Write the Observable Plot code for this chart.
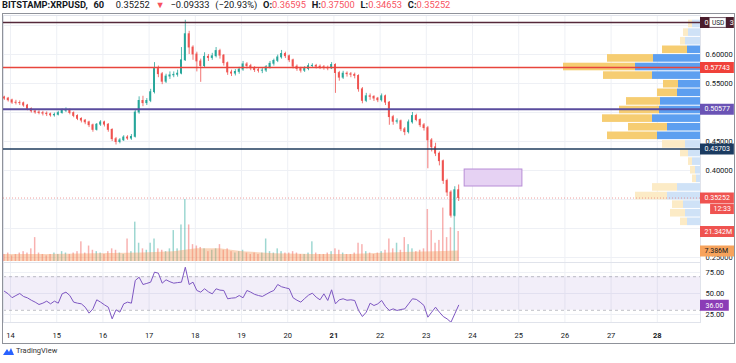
<!DOCTYPE html>
<html><head><meta charset="utf-8">
<script src="https://cdn.jsdelivr.net/npm/d3@7"></script>
<script src="https://cdn.jsdelivr.net/npm/@observablehq/plot@0.6"></script>
<style>
body{margin:0;background:#fff;font-family:Roboto,"Liberation Sans",sans-serif;}
#wrap{position:relative;width:736px;height:363px;overflow:hidden;background:#fff;}
#wrap svg{position:absolute;left:0;top:0;}
#hdr{position:absolute;left:2px;top:-1px;font-size:9.3px;color:#131722;white-space:nowrap;word-spacing:3.5px;}
#hdr .r{color:#f7525f;}
#hdr b{font-weight:bold;}
#frame{position:absolute;left:2px;top:13px;width:733px;height:331px;border:1px solid #8f929a;box-sizing:border-box;pointer-events:none;}
#foot{position:absolute;left:3px;top:346px;font-size:7.5px;color:#333;display:flex;align-items:center;gap:2px;}
</style></head>
<body><div id="wrap">
<div id="hdr"><b>BITSTAMP:XRPUSD, 60</b>&nbsp; 0.35252 <span class="r">▼</span> −0.09333 (−20.93%) <b>O:</b><span class="r">0.36595</span> <b>H:</b><span class="r">0.37500</span> <b>L:</b><span class="r">0.34653</span> <b>C:</b><span class="r">0.35252</span></div>
<div id="frame"></div>
<div id="foot"><svg width="11" height="8" viewBox="0 0 11 8" style="position:static"><path d="M0 8 L4 2 L6 5 L8 1 L11 8 Z" fill="#2962ff"/></svg><span>TradingView</span></div>
</div>
<script>
// ---------- data ----------
const dayTicks = [14,15,16,17,18,19,20,21,22,23,24,25,26,27,28];
const boldDays = [21,28];
const priceTicks = [0.25,0.30,0.35,0.40,0.45,0.50,0.55,0.60,0.65];
const priceTickLabels = [0.25,0.30,0.40,0.45,0.55,0.60];   // the others sit under price tags
const rsiTicks = [25,50,75];
const startDay = 13.8667;           // first 2-hour candle
const stepDay = 1/12;               // 2-hour candles
const firstOpen = 0.526;
const closes = [0.524,0.521,0.517,0.5165,0.516,0.512,0.506,0.502,0.500,0.499,
 0.498,0.497,0.495,0.496,0.499,0.503,0.504,0.499,0.494,0.489,
 0.486,0.483,0.478,0.470,0.479,0.483,0.479,0.470,0.454,0.449,
 0.452,0.457,0.455,0.458,0.500,0.520,0.516,0.520,0.535,0.575,
 0.566,0.553,0.562,0.564,0.565,0.567,0.590,0.635,0.612,0.600,
 0.588,0.580,0.596,0.594,0.597,0.606,0.598,0.585,0.569,0.567,
 0.570,0.574,0.583,0.580,0.576,0.573,0.572,0.5723,0.578,0.584,
 0.589,0.595,0.601,0.597,0.590,0.579,0.575,0.572,0.575,0.580,
 0.5805,0.579,0.578,0.577,0.576,0.582,0.568,0.560,0.567,0.566,
 0.565,0.563,0.540,0.520,0.528,0.527,0.524,0.521,0.528,0.517,
 0.492,0.484,0.485,0.471,0.466,0.483,0.494,0.487,0.478,0.473,
 0.452,0.440,0.429,0.416,0.382,0.362,0.322,0.366,0.35252];
const highs = [0.528,0.526,0.523,0.521,0.520,0.518,0.514,0.508,0.505,0.503,
 0.502,0.501,0.499,0.499,0.502,0.506,0.508,0.506,0.501,0.496,
 0.491,0.488,0.485,0.480,0.481,0.486,0.485,0.481,0.472,0.457,
 0.455,0.460,0.460,0.462,0.505,0.527,0.528,0.524,0.540,0.586,
 0.580,0.569,0.566,0.570,0.570,0.573,0.612,0.659,0.640,0.615,
 0.604,0.592,0.603,0.600,0.602,0.612,0.609,0.600,0.587,0.573,
 0.574,0.578,0.588,0.586,0.583,0.579,0.576,0.576,0.581,0.588,
 0.592,0.599,0.607,0.604,0.599,0.592,0.582,0.578,0.579,0.584,
 0.584,0.583,0.582,0.581,0.580,0.586,0.584,0.571,0.571,0.570,
 0.569,0.568,0.565,0.543,0.533,0.532,0.529,0.526,0.532,0.530,
 0.519,0.495,0.489,0.487,0.474,0.487,0.500,0.497,0.489,0.481,
 0.476,0.455,0.447,0.432,0.418,0.385,0.365,0.372,0.37500];
const lows = [0.521,0.518,0.514,0.513,0.512,0.509,0.503,0.499,0.497,0.496,
 0.494,0.493,0.492,0.492,0.494,0.497,0.500,0.496,0.491,0.486,
 0.482,0.479,0.474,0.466,0.468,0.476,0.475,0.466,0.450,0.444,
 0.446,0.450,0.452,0.452,0.456,0.497,0.510,0.512,0.517,0.532,
 0.560,0.548,0.550,0.557,0.560,0.561,0.565,0.588,0.600,0.590,
 0.570,0.552,0.577,0.588,0.590,0.594,0.592,0.580,0.564,0.562,
 0.563,0.566,0.571,0.575,0.572,0.569,0.568,0.567,0.569,0.575,
 0.580,0.586,0.592,0.593,0.586,0.575,0.571,0.568,0.569,0.572,
 0.576,0.575,0.574,0.573,0.572,0.574,0.533,0.554,0.557,0.561,
 0.560,0.558,0.535,0.515,0.517,0.521,0.519,0.517,0.518,0.512,
 0.478,0.478,0.480,0.467,0.460,0.463,0.480,0.484,0.474,0.468,
 0.403,0.432,0.424,0.408,0.376,0.355,0.318,0.320,0.34653];
const volumesM = [5,6,4,5,6,7,6,9,17,6,
 5,4,5,6,5,7,6,5,6,7,
 14,6,11,8,7,6,5,7,9,8,
 6,5,16,7,28,13,9,8,13,16,
 9,8,7,9,22,9,26,44,26,12,
 11,10,9,7,8,9,12,8,9,7,
 6,7,8,6,5,6,5,6,16,7,
 6,9,7,6,6,7,6,5,5,6,
 14,6,5,5,6,7,9,8,6,5,
 5,6,13,12,7,6,5,6,7,8,
 16,9,13,8,17,12,9,7,8,9,
 37,22,13,15,38,17,24,34,21.342];
const rsiValues = [52.7,49.6,45,47.6,50,46.4,44.8,42,39.7,36.9,
 38.5,40.9,37.7,40.9,38.5,49.6,51.6,47.6,39.7,38.5,
 37.7,33.7,26.6,31.7,42.5,39.7,36.5,33.7,19.8,30.6,
 27.8,37.7,39.7,38.5,65.5,69.4,60.7,62,63.5,75.4,
 74.2,62.3,66.3,64,62.3,63,63.5,81.3,60.7,63.5,
 53.6,51.6,55.6,52,49.6,55.6,54,53.6,43.7,44.5,
 44.9,47.6,44.9,53.6,51.6,49,47.6,46.5,49,51.6,
 53.6,60.7,58,56.8,55.6,44.9,42,39.7,44,48,
 50.4,45.6,42.5,49.6,41.7,54.4,37.7,42.5,43.7,42,
 42.5,41.7,29.8,22.6,27.8,38.5,35.7,37.7,41.7,34.5,
 29.8,31.7,29.8,31,31.7,37.7,43.7,43,39.7,35.7,
 21.8,27.8,33.7,27.8,22.6,19.8,15.8,25.8,36];
// volume moving average, read at candle indices
const maIndex = [0,12,24,36,44,50,56,62,70,80,90,100,106,112,118];
const maValues = [5,5,5.5,6,7,9,9,7,5.5,5,5,6,6.5,7,7.386];
// visible range volume profile (rows from top price, fixed row height)
const vpTop = 0.66, vpRow = 0.01483;
const vpUp   = [4,6,7.5,6.5,23.5,32.5,24,11,11.5,20,20.5,24,16.5,21.5,7.5,6,4,2.5,2,11.5,16.5,8.5,7.5,6.5];
const vpDown = [2,2.5,2.5,12.5,23,36,24.5,7.5,10,17,20,25,19.5,25,11.5,4,2,2.5,2,12.5,16,5.5,7.5,3.5];
const vpValueArea = [0,0,0,1,1,1,1,1,1,1,1,1,1,1,0,0,0,0,0,0,0,0,0,0];
// horizontal levels
const levelPrices = [0.65523,0.57743,0.50577,0.43703];
const levelColors = ["#55283a","#e8453c","#5a4c9e","#1f3d5e"];
const levelWidths = [1.5,1.5,2,1.5];
const levelTags   = ["#4a1d2c","#f0413a","#6a53b5","#1b3b60"];
const topTagParts = ["0", "3"];     // visible ends of the top level's tag, USD badge covers the rest
const lastPrice = 0.35252, countdown = "12:33";
const zone = {d1:23.83, d2:25.08, p1:0.3724, p2:0.4017};
const lastVolume = 21.342, volMALast = 7.386, rsiLast = 36.00;

// ---------- layout ----------
const W = 736, H = 363;
const xDomain = [13.848, 28.935];
const priceDomain = [0.241379, 0.667241];
const volDomain = [0, 175];
const rsiDomain = [15.476, 86.905];
const UP = "#26a69a", DOWN = "#ef5350";
const TAGFONT = 7;
const baseStyle = "background:transparent;position:absolute;left:0;top:0;overflow:visible;font-family:Roboto,'Liberation Sans',sans-serif;";

const candles = closes.map((c, i) => ({
  t: startDay + i * stepDay, o: i ? closes[i-1] : firstOpen, c, h: highs[i], l: lows[i],
  v: volumesM[i], r: rsiValues[i]
}));
candles.forEach(d => d.col = d.c >= d.o ? UP : DOWN);
const maData = maIndex.map((k, j) => ({t: startDay + k * stepDay, v: maValues[j]}));
const vp = vpUp.map((u, k) => ({hi: vpTop - k*vpRow, lo: vpTop - (k+1)*vpRow, up: u, dn: vpDown[k], va: vpValueArea[k]}));
const levels = levelPrices.map((p, k) => ({p, stroke: levelColors[k], w: levelWidths[k], tag: levelTags[k]}));

const wrap = document.getElementById("wrap");
const frameEl = document.getElementById("frame");
function add(svg){ wrap.insertBefore(svg, frameEl); }

// price pane background: grid + frame
add(Plot.plot({
  width: W, height: H, marginTop: 15, marginBottom: 101, marginLeft: 3, marginRight: 36,
  style: baseStyle, x: {domain: xDomain, axis: null}, y: {domain: priceDomain, axis: null},
  marks: [
    Plot.ruleY(priceTicks, {stroke: "#eef0f5"}),
    Plot.ruleX(dayTicks, {stroke: "#eef0f5"}),
    Plot.frame({stroke: "#e0e3eb"})
  ]
}));

// volume overlay
add(Plot.plot({
  width: W, height: H, marginTop: 15, marginBottom: 102, marginLeft: 3, marginRight: 36,
  style: baseStyle, x: {domain: xDomain, axis: null}, y: {domain: volDomain, axis: null},
  color: {type: "identity"},
  marks: [
    Plot.rect(candles, {x1: d => d.t - 0.016, x2: d => d.t + 0.016, y1: d => 0, y2: "v", fill: "col", fillOpacity: 0.45}),
    Plot.areaY(maData, {x: "t", y: "v", fill: "#f39a5e", fillOpacity: 0.42})
  ]
}));

// volume profile
add(Plot.plot({
  width: W, height: H, marginTop: 15, marginBottom: 101,
  style: baseStyle, x: {domain: [0, 100], range: [700, 500], axis: null}, y: {domain: priceDomain, axis: null},
  color: {type: "identity"},
  marks: [
    Plot.rect(vp, {x1: d => 0, x2: "up", y1: "lo", y2: "hi", fill: d => d.va ? "#5d9ff0" : "#cfe2f7", insetTop: 0.5, insetBottom: 0.5}),
    Plot.rect(vp, {x1: "up", x2: d => d.up + d.dn, y1: "lo", y2: "hi", fill: d => d.va ? "#f6cd72" : "#fcebc6", insetTop: 0.5, insetBottom: 0.5})
  ]
}));

// price pane: candles, levels, zone
add(Plot.plot({
  width: W, height: H, marginTop: 15, marginBottom: 101, marginLeft: 3, marginRight: 36,
  style: baseStyle, x: {domain: xDomain, axis: null}, y: {domain: priceDomain, axis: null},
  color: {type: "identity"},
  marks: [
    Plot.ruleY([lastPrice], {stroke: "#e57373", strokeOpacity: 0.7, strokeDasharray: "1,2"}),
    Plot.rect([zone], {x1: "d1", x2: "d2", y1: "p1", y2: "p2", fill: "#e6d2f3", stroke: "#b88dd6", strokeWidth: 1}),
    Plot.ruleX(candles, {x: "t", y1: "l", y2: "h", stroke: "col", strokeWidth: 0.8}),
    Plot.rect(candles, {x1: d => d.t - 0.021, x2: d => d.t + 0.021, y1: "o", y2: "c", fill: "col", insetTop: -0.4, insetBottom: -0.4}),
    ...levels.map(L => Plot.ruleY([L.p], {stroke: L.stroke, strokeWidth: L.w})),
    Plot.axisY(priceTickLabels, {anchor: "right", tickSize: 0, tickPadding: 5, tickFormat: d3.format(".5f"), fontSize: 7.5, fill: "#131722", label: null})
  ]
}));

// price axis column: tags
const priceTags = levels.slice(1).map(L => ({v: L.p, bg: L.tag, fg: "#fff", label: d3.format(".5f")(L.p)}))
  .concat([{v: lastPrice, bg: DOWN, fg: "#fff", label: d3.format(".5f")(lastPrice)}]);
add(Plot.plot({
  width: W, height: H, marginTop: 15, marginBottom: 101, marginLeft: 700, marginRight: 0,
  style: baseStyle, x: {domain: [0, 1], axis: null}, y: {domain: priceDomain, axis: null},
  color: {type: "identity"},
  marks: [
    Plot.ruleY(priceTags, {y: "v", x1: d => 0, x2: d => 0.94, stroke: "bg", strokeWidth: 11}),
    Plot.text(priceTags, {y: "v", x: d => 0.11, text: "label", fill: "fg", textAnchor: "start", fontSize: TAGFONT}),
    Plot.ruleY([lastPrice], {x1: d => 0.28, x2: d => 0.94, stroke: DOWN, strokeWidth: 10, dy: 11}),
    Plot.text([countdown], {y: d => lastPrice, x: d => 0.36, text: d => d, fill: "#fff", textAnchor: "start", fontSize: TAGFONT, dy: 11}),
    // top level tag with USD badge over it
    Plot.ruleY([levelPrices[0]], {x1: d => 0, x2: d => 0.94, stroke: levelTags[0], strokeWidth: 11}),
    Plot.text([topTagParts[0]], {y: d => levelPrices[0], x: d => 0.11, text: d => d, fill: "#fff", textAnchor: "start", fontSize: TAGFONT}),
    Plot.text([topTagParts[1]], {y: d => levelPrices[0], x: d => 0.92, text: d => d, fill: "#fff", textAnchor: "end", fontSize: TAGFONT}),
    Plot.ruleY([levelPrices[0]], {x1: d => 0.26, x2: d => 0.72, stroke: "#b2b5be", strokeWidth: 10}),
    Plot.ruleY([levelPrices[0]], {x1: d => 0.275, x2: d => 0.705, stroke: "#fff", strokeWidth: 8.6}),
    Plot.text(["USD"], {y: d => levelPrices[0], x: d => 0.49, text: d => d, fill: "#131722", fontSize: 6.5})
  ]
}));

// volume axis column tags
const volTags = [{v: lastVolume, bg: DOWN, fg: "#fff", label: lastVolume + "M"}, {v: volMALast, bg: "#f7a35c", fg: "#131722", label: volMALast + "M"}];
add(Plot.plot({
  width: W, height: H, marginTop: 15, marginBottom: 102, marginLeft: 700, marginRight: 0,
  style: baseStyle, x: {domain: [0, 1], axis: null}, y: {domain: volDomain, axis: null},
  color: {type: "identity"},
  marks: [
    Plot.ruleY(volTags, {y: "v", x1: d => 0, x2: d => 0.97, stroke: "bg", strokeWidth: 11}),
    Plot.text(volTags, {y: "v", x: d => 0.11, text: "label", fill: "fg", textAnchor: "start", fontSize: TAGFONT})
  ]
}));

// RSI pane + time axis
add(Plot.plot({
  width: W, height: H, marginTop: 262, marginBottom: 41, marginLeft: 3, marginRight: 36,
  style: baseStyle, x: {domain: xDomain, axis: null}, y: {domain: rsiDomain, axis: null},
  marks: [
    Plot.ruleY(rsiTicks, {stroke: "#eef0f5"}),
    Plot.ruleX(dayTicks, {stroke: "#eef0f5"}),
    Plot.rect([0], {x1: d => xDomain[0], x2: d => xDomain[1], y1: d => 30, y2: d => 70, fill: "#7e57c2", fillOpacity: 0.1}),
    Plot.ruleY([30, 70], {stroke: "#9598a1", strokeOpacity: 0.6, strokeDasharray: "3,3"}),
    Plot.line(candles, {x: "t", y: "r", stroke: "#7e57c2", strokeWidth: 1}),
    Plot.frame({stroke: "#e0e3eb"}),
    Plot.axisY(rsiTicks, {anchor: "right", tickSize: 0, tickPadding: 5, tickFormat: d3.format(".2f"), fontSize: 7.5, fill: "#131722", label: null}),
    Plot.text(dayTicks.filter(d => !boldDays.includes(d)), {x: d => d, frameAnchor: "bottom", dy: 15, text: d => String(d), fontSize: 7.5, fill: "#131722"}),
    Plot.text(boldDays, {x: d => d, frameAnchor: "bottom", dy: 15, text: d => String(d), fontSize: 7.5, fontWeight: "bold", fill: "#131722"})
  ]
}));

// RSI column tag
add(Plot.plot({
  width: W, height: H, marginTop: 262, marginBottom: 41, marginLeft: 700, marginRight: 0,
  style: baseStyle, x: {domain: [0, 1], axis: null}, y: {domain: rsiDomain, axis: null},
  marks: [
    Plot.ruleY([rsiLast], {x1: d => 0, x2: d => 0.8, stroke: "#8b3cb6", strokeWidth: 11}),
    Plot.text([rsiLast], {y: d => d, x: d => 0.14, text: d => d3.format(".2f")(d), fill: "#fff", textAnchor: "start", fontSize: TAGFONT})
  ]
}));
</script>
</body></html>
